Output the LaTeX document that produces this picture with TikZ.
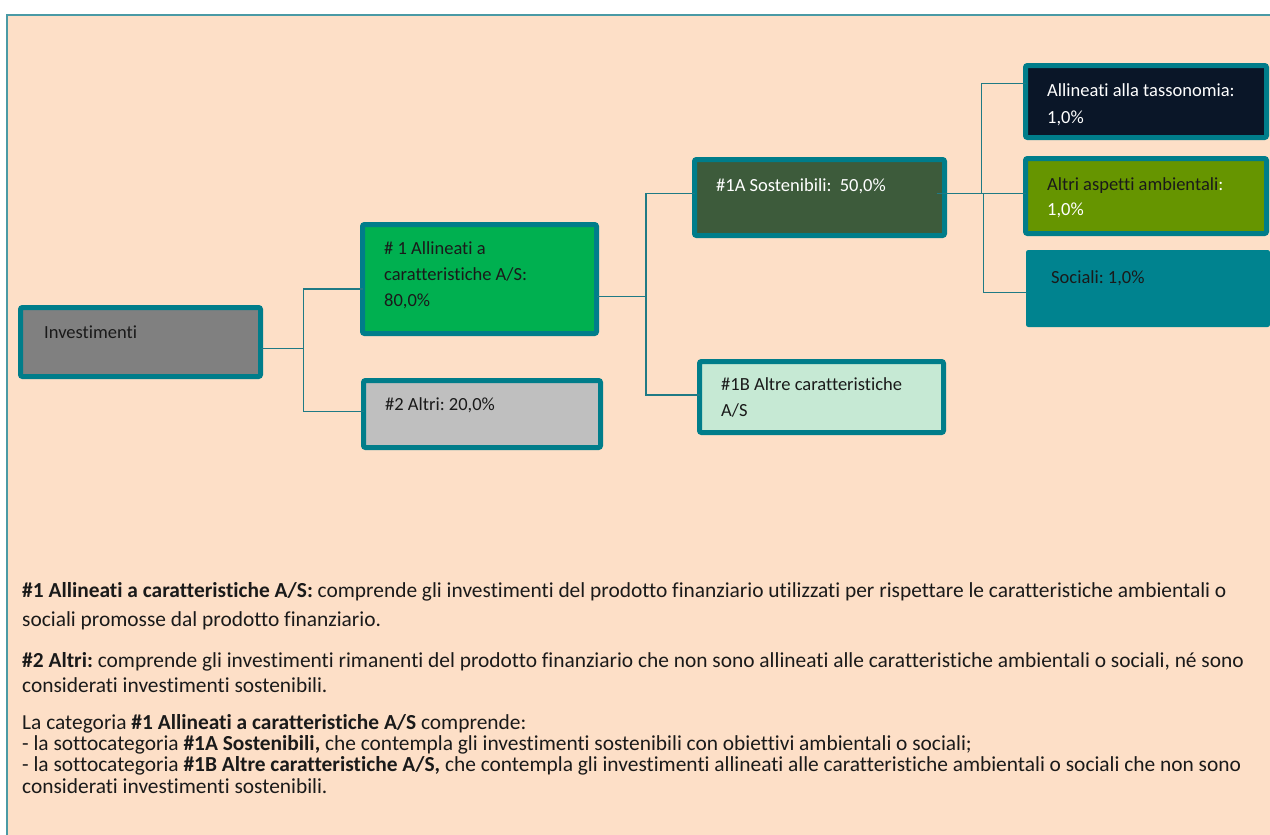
\documentclass[tikz,border=0pt]{standalone}
\usepackage{fontspec}
\setmainfont{Carlito}[Ligatures={NoCommon}]
\frenchspacing
\definecolor{peach}{HTML}{FDDFC7}
\definecolor{frameteal}{HTML}{4A9AA5}
\definecolor{boxteal}{HTML}{007D8A}
\definecolor{connteal}{HTML}{1F7A85}
\definecolor{invgray}{HTML}{808080}
\definecolor{grnA}{HTML}{00B050}
\definecolor{grayB}{HTML}{BFBFBF}
\definecolor{darkgrn}{HTML}{3D5B3B}
\definecolor{mint}{HTML}{C6E9D4}
\definecolor{navy}{HTML}{0A1628}
\definecolor{olive}{HTML}{669500}
\definecolor{socteal}{HTML}{00838F}
\definecolor{ink}{HTML}{1A1A1A}
\tikzset{
  box/.style={draw=boxteal, line width=5pt, rounded corners=2pt, anchor=north west, inner sep=0pt, outer sep=0pt},
  btxt/.style={anchor=base west, inner sep=0pt, font=\fontsize{18.5}{22}\selectfont\frenchspacing, text=ink},
  mtxt/.style={anchor=base west, inner sep=0pt, font=\fontsize{21.4}{25}\selectfont\frenchspacing, text=ink},
  conn/.style={draw=connteal, line width=1.1pt},
}
\newcommand{\mkbox}[6]{% name, x1, y1, x2, y2, fill
  \node[box, fill=#6, minimum width={#4-#2-5}, minimum height={#5-#3-5}] (#1) at (#2+2.5,#3+2.5) {};}
\begin{document}
\begin{tikzpicture}[x=1pt,y=-1pt]
\useasboundingbox (0,0) rectangle (1270,835);
\fill[peach] (7,15) rectangle (1271,836);
\draw[frameteal, line width=2pt] (7,836) -- (7,15) -- (1271,15);

% boxes
\mkbox{inv}{18}{305}{263}{379}{invgray}
\mkbox{a1}{360}{222}{599}{336}{grnA}
\mkbox{a2}{361}{378}{603}{450}{grayB}
\mkbox{s1a}{692}{157}{947}{238}{darkgrn}
\mkbox{s1b}{697}{359}{946}{435}{mint}
\mkbox{tax}{1023}{63}{1269}{140}{navy}
\mkbox{amb}{1023}{156}{1269}{236}{olive}
\node[box, draw=socteal, line width=1pt, fill=socteal, minimum width=243, minimum height=76] (soc) at (1026.5,250.5) {};

% connectors
\draw[conn] ([yshift=-6.7pt]inv.east) -- ++(43,0) coordinate (j1) |- ([yshift=-10pt]a1.west);
\draw[conn] (j1) |- ([yshift=2.3pt]a2.west);
\draw[conn] ([yshift=-17.7pt]a1.east) -- ++(49.5,0) coordinate (j2) |- ([yshift=4.2pt]s1a.west);
\draw[conn] (j2) |- ([yshift=2pt]s1b.west);
\draw[conn] ([xshift=-8pt,yshift=4.2pt]s1a.east) -- ++(45,0) coordinate (j3) |- ([yshift=18.2pt]tax.west);
\draw[conn] (j3) -- ([yshift=2.7pt]amb.west);
\draw[conn] ([xshift=2pt]j3) |- ([yshift=-3.8pt]soc.west);

% box texts
\node[btxt] (invT) at (44,338) {Investimenti};
\node[btxt] (a1T1) at (384,254) {\# 1 Allineati a};
\node[btxt] (a1T2) at (384,280) {caratteristiche A/S:};
\node[btxt] (a1T3) at (384,306.5) {80,0\%};
\node[btxt] (a2T) at (385,410) {\#2 Altri: 20,0\%};
\node[btxt, text=white] (s1aT) at (716,191) {\#1A Sostenibili:\ \ 50,0\%};
\node[btxt] (s1bT1) at (721,390.7) {\#1B Altre caratteristiche};
\node[btxt] (s1bT2) at (721,416.7) {A/S};
\node[btxt, text=white] (taxT1) at (1047,96.7) {Allineati alla tassonomia:};
\node[btxt, text=white] (taxT2) at (1047,123) {1,0\%};
\node[btxt] (ambT1) at (1047,190) {Altri aspetti ambientali\textcolor{white}{:}};
\node[btxt, text=white] (ambT2) at (1047,215) {1,0\%};
\node[btxt] (socT) at (1051,283) {Sociali: 1,0\%};

% explanatory text
\node[mtxt] (p1) at (22,597) {\textbf{\#1 Allineati a caratteristiche A/S:} comprende gli investimenti del prodotto finanziario utilizzati per rispettare le caratteristiche ambientali o};
\node[mtxt] (p2) at (22,626) {sociali promosse dal prodotto finanziario.};
\node[mtxt] (p3) at (22,667) {\textbf{\#2 Altri:} comprende gli investimenti rimanenti del prodotto finanziario che non sono allineati alle caratteristiche ambientali o sociali, né sono};
\node[mtxt] (p4) at (22,692) {considerati investimenti sostenibili.};
\node[mtxt] (p5) at (22,729) {La categoria \textbf{\#1 Allineati a caratteristiche A/S} comprende:};
\node[mtxt] (p6) at (22,750) {- la sottocategoria \textbf{\#1A Sostenibili,} che contempla gli investimenti sostenibili con obiettivi ambientali o sociali;};
\node[mtxt] (p7) at (22,771) {- la sottocategoria \textbf{\#1B Altre caratteristiche A/S,} che contempla gli investimenti allineati alle caratteristiche ambientali o sociali che non sono};
\node[mtxt] (p8) at (22,793) {considerati investimenti sostenibili.};
\end{tikzpicture}
\end{document}
